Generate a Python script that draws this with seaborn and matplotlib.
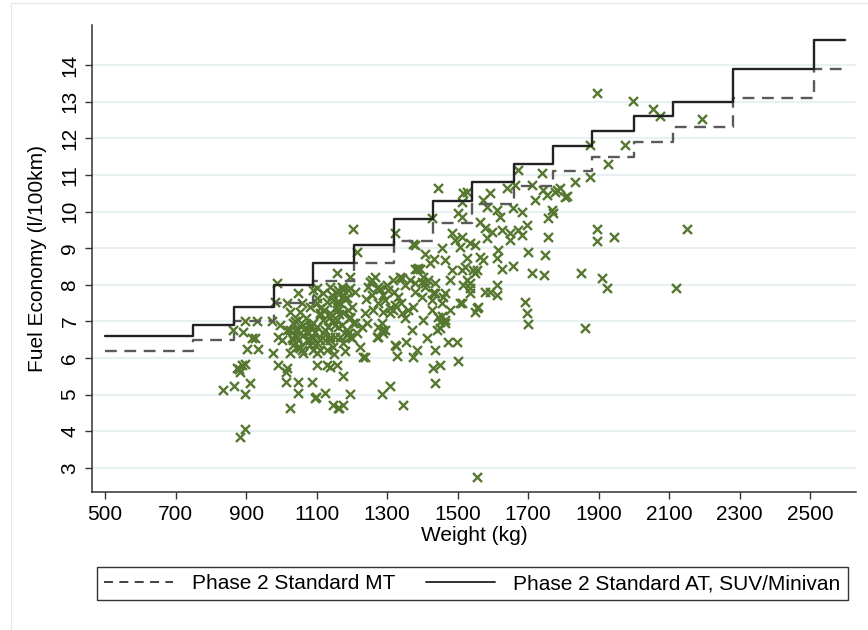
import numpy as np
import pandas as pd
import seaborn as sns
from matplotlib import pyplot as plt
from matplotlib.lines import Line2D
from matplotlib.patches import Rectangle

#===== DATA ==========================================
# weight class boundaries (kg) and the Phase 2 limits (l/100km)
class_edges = [500, 750, 865, 980, 1090, 1205, 1320, 1430, 1540, 1660,
               1770, 1880, 2000, 2110, 2280, 2510, 2600]
limit_mt = [6.2, 6.5, 7.0, 7.5, 8.1, 8.6, 9.2, 9.7, 10.2, 10.7,
            11.1, 11.5, 11.9, 12.3, 13.1, 13.9]
limit_at = [6.6, 6.9, 7.4, 8.0, 8.6, 9.1, 9.8, 10.3, 10.8, 11.3,
            11.8, 12.2, 12.6, 13.0, 13.9, 14.7]

# vehicles
weight_kg = [
    835, 866, 911, 897, 883, 897, 874, 889, 897, 883, 880,
    863, 892, 917, 925, 903, 934, 897, 931, 974,
    977, 991, 1016, 1013, 1013, 1047, 1047, 1087, 1025, 1096, 1124, 1147, 1101, 1130,
    988, 982, 1016, 1047, 996, 991, 1002, 1016, 1025,
    1047, 1053, 1082, 1101, 1110, 1119, 1133, 1090, 1073, 1045, 1034, 1082, 1101,
    1110, 1130, 1124, 1138, 1152, 1047, 1059, 1039, 1034, 1025,
    1090, 1119, 1144, 1161, 1101, 1130, 1158, 1110, 1138, 1152, 1124, 1158,
    1101, 1138, 1158, 1175, 1195, 1187, 1167, 1147, 1138, 1158, 1175, 1195, 1204,
    1187, 1167, 1138, 1119, 1101, 1110, 1147, 1175, 1195, 1215, 1223, 1232, 1158, 1138,
    1025, 1039, 1047, 1062, 1073, 1082, 1034, 1053, 1076, 1090, 1082, 1062, 1045,
    1030, 1090, 1062, 1101, 1110,
    1099, 1164, 1175, 1175, 1195, 1238, 1238, 1286, 1309, 1345, 1326, 1328, 1354,
    1374, 1385, 1413, 1436, 1430, 1436, 1450, 1473, 1498, 1501, 1555, 1465, 1450, 1456,
    1445, 1204, 1215, 1323, 1501, 1516, 1428, 1374, 1380, 1385, 1378, 1392, 1408,
    1422, 1433, 1456, 1465, 1484, 1493, 1513, 1484, 1513, 1479, 1465, 1456, 1445,
    1465, 1402, 1408, 1379, 1399, 1428, 1428, 1402, 1374, 1360, 1343, 1351, 1323,
    1343, 1351, 1331, 1317, 1309, 1317, 1303, 1294, 1274, 1266, 1257, 1246, 1257,
    1274, 1289, 1286, 1274, 1294, 1274, 1289, 1323, 1243, 1229, 1209, 1195, 1189,
    1201, 1187, 1172, 1161, 1158, 1172, 1189, 1172, 1195, 1161, 1189, 1379, 1399,
    1416, 1436, 1436, 1161,
    1672, 1740, 1833, 1527, 1592, 1640, 1663, 1711, 1743, 1754, 1777, 1791, 1811,
    1720, 1572, 1584, 1612, 1657, 1683, 1620, 1768, 1771, 1757, 1513, 1513, 1564,
    1578, 1598, 1626, 1649, 1672, 1697, 1683, 1649, 1584, 1535, 1550, 1757, 1615,
    1507, 1612, 1564, 1572, 1527, 1700, 1748, 1626, 1657, 1711, 1745, 1544, 1521,
    1527, 1550, 1535, 1535, 1516, 1612, 1592, 1612, 1513, 1558, 1550, 1692, 1697, 1700,
    1896, 1998, 2053, 2074, 2194, 1876, 1975, 1927, 1876, 1896, 1896, 1944, 2151,
    1850, 1910, 1924, 2120, 1862,
    1252, 1272, 1289, 1309, 1337, 1365, 1388, 1408, 1430, 1459, 1479, 1507, 1535,
    1555, 1578, 1450, 1442, 1371, 1286, 1272, 1555, 1805, 1782,
    1060, 1070, 1085, 1120, 1145, 1165, 1180, 1200, 1210, 1240, 1260, 1280, 1300,
    1320, 1340, 1040, 1065, 1095, 1150, 1180,
]
fuel_l100km = [
    5.13, 5.24, 5.32, 5.02, 3.85, 4.05, 5.73, 5.81, 5.84, 5.62, 5.70,
    6.77, 6.72, 6.55, 6.55, 6.25, 6.25, 7.02, 7.02, 7.02,
    6.14, 5.81, 5.73, 5.62, 5.35, 5.35, 5.05, 5.35, 4.64, 4.91, 5.05, 4.72, 5.81, 5.81,
    8.05, 7.54, 7.51, 7.78, 6.91, 6.58, 6.50, 6.77, 6.14,
    7.04, 7.26, 7.40, 7.51, 7.23, 7.04, 6.85, 6.96, 6.69, 6.58, 6.50, 6.50, 6.42,
    6.23, 6.23, 6.50, 6.50, 6.58, 6.31, 6.23, 6.77, 6.96, 7.26,
    7.86, 7.78, 7.73, 7.86, 7.64, 7.54, 7.40, 7.37, 7.23, 6.91, 6.77, 8.33,
    7.92, 7.95, 7.78, 7.86, 7.92, 7.64, 7.51, 7.59, 7.13, 7.04, 7.23, 7.13, 6.96,
    6.77, 6.58, 6.58, 6.69, 6.85, 6.50, 6.31, 6.42, 6.58, 6.69, 6.31, 6.04, 5.81, 5.76,
    6.77, 6.63, 6.50, 6.63, 6.50, 6.36, 6.36, 6.28, 6.69, 6.58, 6.85, 6.91, 6.77,
    6.55, 6.23, 6.14, 6.14, 7.18,
    4.94, 4.64, 4.72, 5.51, 5.02, 6.04, 7.23, 5.02, 5.24, 4.72, 6.33, 6.06, 6.44,
    6.04, 6.23, 6.55, 6.23, 5.73, 5.32, 5.81, 6.44, 6.44, 5.92, 2.75, 7.04, 6.82, 7.15,
    10.65, 9.53, 8.90, 9.42, 9.97, 10.50, 9.83, 9.12, 9.10, 8.44, 8.44, 8.44, 8.85,
    8.60, 8.70, 9.00, 8.68, 9.42, 9.23, 9.31, 8.41, 8.41, 8.14, 7.78, 7.51, 7.13,
    6.96, 8.22, 7.95, 7.81, 7.67, 7.59, 7.32, 7.04, 7.40, 7.32, 7.23, 7.10, 7.45,
    8.19, 8.00, 7.67, 7.32, 7.23, 8.14, 7.86, 7.59, 7.95, 8.22, 8.14, 7.95, 7.73,
    7.51, 7.26, 6.96, 6.85, 6.77, 6.58, 6.69, 6.36, 6.96, 6.85, 6.96, 7.10, 6.69,
    6.55, 6.63, 6.91, 6.85, 7.51, 7.67, 7.86, 7.95, 8.22, 7.32, 7.32, 8.05, 8.08,
    8.14, 8.05, 7.78, 4.64,
    11.14, 11.06, 10.81, 10.54, 10.51, 10.65, 10.73, 10.73, 10.60, 10.46, 10.54, 10.65, 10.43,
    10.32, 10.32, 10.13, 10.05, 10.10, 10.00, 9.86, 10.05, 9.97, 9.83, 9.86, 10.27, 9.72,
    9.56, 9.45, 9.50, 9.42, 9.50, 9.64, 9.37, 9.23, 9.28, 9.15, 9.09, 9.31, 8.96,
    9.04, 8.74, 8.77, 8.68, 8.74, 8.90, 8.82, 8.44, 8.52, 8.33, 8.27, 8.41, 8.49,
    8.14, 8.33, 7.92, 7.78, 8.00, 8.00, 7.81, 7.73, 7.51, 7.40, 7.26, 7.54, 7.23, 6.93,
    13.25, 13.03, 12.80, 12.60, 12.52, 11.83, 11.83, 11.31, 10.96, 9.53, 9.20, 9.31, 9.53,
    8.33, 8.19, 7.92, 7.92, 6.83,
    8.08, 7.92, 7.73, 7.37, 8.22, 8.14, 8.47, 8.05, 7.78, 7.67, 7.32, 7.51, 8.05,
    8.41, 7.81, 6.99, 6.77, 6.77, 6.77, 6.58, 7.37, 10.40, 10.60,
    7.50, 7.10, 6.90, 7.30, 7.00, 7.20, 7.60, 7.40, 7.80, 7.60, 7.30, 7.90, 8.00,
    7.80, 7.50, 7.00, 6.80, 6.70, 6.10, 6.20,
]

x_ticks = list(range(500, 2501, 200))
y_ticks = list(range(3, 15))

#===== PLOT ==========================================
sns.set_theme(style="white")
plt.rcParams['font.family'] = ['Liberation Sans', 'DejaVu Sans']
plt.rcParams['text.color'] = 'black'
plt.rcParams['axes.labelcolor'] = 'black'
plt.rcParams['xtick.color'] = 'black'
plt.rcParams['ytick.color'] = 'black'

cars = pd.DataFrame({"weight": weight_kg, "fuel": fuel_l100km})
limits = pd.DataFrame({"weight": class_edges,
                       "mt": limit_mt + [limit_mt[-1]],
                       "at": limit_at + [limit_at[-1]]})

fig = plt.figure(figsize=(8.68, 6.3), dpi=100)
ax = fig.add_axes([92/868, 1 - 492/630, (856 - 92)/868, (492 - 25)/630])

sns.scatterplot(data=cars, x="weight", y="fuel", marker="x", s=42,
                color="#55772f", linewidth=1.7, ax=ax, zorder=3)
sns.lineplot(data=limits, x="weight", y="mt", drawstyle="steps-post",
             color="#5a5a5a", lw=1.7, ls=(0, (5, 3.2)), ax=ax, zorder=4)
sns.lineplot(data=limits, x="weight", y="at", drawstyle="steps-post",
             color="#222222", lw=1.7, ax=ax, zorder=4)

ax.set_xlim(463, 2630)
ax.set_ylim(2.34, 15.1)
ax.set_xticks(x_ticks)
ax.set_yticks(y_ticks)
ax.yaxis.grid(True, color="#e8f0f2", lw=1.6)
ax.set_axisbelow(True)

for side in ["top", "right"]:
    ax.spines[side].set_visible(False)
for side in ["left", "bottom"]:
    ax.spines[side].set_color("#333333")
    ax.spines[side].set_linewidth(1.1)

ax.tick_params(axis="both", direction="out", length=5, width=1, color="#333333",
               labelsize=15, pad=4, left=True, bottom=True)
for lab in ax.get_yticklabels():
    lab.set_rotation(90)
    lab.set_va("center")

ax.set_xlabel("Weight (kg)", fontsize=15, labelpad=2)
ax.set_ylabel("Fuel Economy (l/100km)", fontsize=15, labelpad=10)

handles = [Line2D([], [], color="#333333", lw=1.3, ls=(0, (5, 3.5))),
           Line2D([], [], color="#222222", lw=1.3)]
leg = fig.legend(handles, ["Phase 2 Standard MT", "Phase 2 Standard AT, SUV/Minivan"],
                 loc="center", ncol=2, mode="expand",
                 bbox_to_anchor=(97/868, 1 - 604/630, 751/868, 41/630),
                 fontsize=15, frameon=True, fancybox=False, handlelength=3.3,
                 borderaxespad=0, borderpad=0.35, handletextpad=0.9)
leg.get_frame().set_edgecolor("black")
leg.get_frame().set_linewidth(1.0)

# faint outer graph region (only its top and left edges are in the crop)
fig.patches.append(Rectangle((11/868, -0.1), 1.2, 0.1 + 627/630,
                             transform=fig.transFigure, fill=False,
                             ec="#e6e6e6", lw=0.8))

fig.savefig("out.png", dpi=100)
